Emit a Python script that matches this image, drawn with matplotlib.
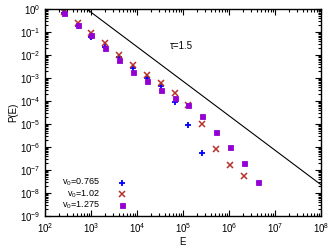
import matplotlib
matplotlib.use("Agg")
import matplotlib.pyplot as plt
import numpy as np
from matplotlib.ticker import FixedLocator, NullFormatter

plt.rcParams['font.family'] = ['Liberation Sans', 'DejaVu Sans']
plt.rcParams['mathtext.fontset'] = 'custom'
plt.rcParams['mathtext.rm'] = 'Liberation Sans'
plt.rcParams['mathtext.it'] = 'Liberation Sans:italic'
plt.rcParams['mathtext.default'] = 'regular'

# Data
E_all = [256, 512, 1024, 2048, 4096, 8192, 16384, 32768, 65536, 131072,
         262144, 524288, 1048576, 2097152, 4194304]
P_v0765 = [0.69, 0.19, 0.059, 0.023, 7.9e-3, 2.75e-3, 1.0e-3, 4.5e-4, 8.7e-5,
           9.1e-6, 5.6e-7]
P_v102 = [0.72, 0.24, 0.093, 0.034, 0.010, 3.8e-3, 1.35e-3, 5.9e-4, 2.3e-4,
          6.8e-5, 9.8e-6, 7.9e-7, 1.7e-7, 5.6e-8]
P_v1275 = [0.69, 0.21, 0.072, 0.021, 6.3e-3, 1.9e-3, 7.4e-4, 3.1e-4, 1.4e-4,
           6.5e-5, 2.3e-5, 4.4e-6, 1.0e-6, 2.1e-7, 3.0e-8]
labels = ['v$_0$=0.765', 'v$_0$=1.02', 'v$_0$=1.275']
tau = 1.5
prefactor = 10 ** 4.36
E_line = [1e2, 1e8]
x_exps = [2, 3, 4, 5, 6, 7, 8]
y_exps = [-9, -8, -7, -6, -5, -4, -3, -2, -1, 0]

colors = ['#0000ff', '#b8302a', '#9400d3']
markers = ['+', 'x', 's']
sizes = [5, 4, 3.6]
ews = [1.3, 1.1, 0.6]
mfcs = ['none', 'none', '#9400d3']

fig = plt.figure(figsize=(3.32, 2.5), dpi=100)
ax = fig.add_axes([45 / 332, 34 / 250, 276 / 332, 207 / 250])
ax.set_xscale('log')
ax.set_yscale('log')
ax.set_xlim(1e2, 1e8)
ax.set_ylim(1e-9, 1e0)

series = [P_v0765, P_v102, P_v1275]
for P, c, m, s, ew, fc in zip(series, colors, markers, sizes, ews, mfcs):
    ax.plot(E_all[:len(P)], P, linestyle='none', marker=m, ms=s, mew=ew,
            mec=c, mfc=fc, color=c)

El = np.array(E_line)
ax.plot(El, prefactor * El ** (-tau), color='black', lw=0.8)

ax.text(0.453, 0.82, 'τ=1.5', transform=ax.transAxes, fontsize=7,
        ha='left', va='center')

# legend
leg_y = [0.161, 0.105, 0.052]
for lab, c, m, s, ew, fc, yy in zip(labels, colors, markers, sizes, ews, mfcs, leg_y):
    ax.text(0.197, yy, lab, transform=ax.transAxes, fontsize=6.5,
            ha='right', va='center')
    ax.plot([0.279], [yy], transform=ax.transAxes, marker=m, ms=s, mew=ew,
            mec=c, mfc=fc, linestyle='none')

ax.set_xticks([10.0 ** e for e in x_exps])
ax.set_xticklabels(['$10^{%d}$' % e for e in x_exps])
ax.set_yticks([10.0 ** e for e in y_exps])
ax.set_yticklabels(['$10^{%d}$' % e for e in y_exps])
xminor = [s * 10.0 ** e for e in x_exps[:-1] for s in range(2, 10)]
yminor = [s * 10.0 ** e for e in y_exps[:-1] for s in range(2, 10)]
ax.xaxis.set_minor_locator(FixedLocator(xminor))
ax.yaxis.set_minor_locator(FixedLocator(yminor))
ax.xaxis.set_minor_formatter(NullFormatter())
ax.yaxis.set_minor_formatter(NullFormatter())
ax.tick_params(which='both', direction='in', top=True, right=True,
               labelsize=7, width=0.8)
ax.tick_params(which='major', length=4)
ax.tick_params(which='minor', length=2)
for sp in ax.spines.values():
    sp.set_linewidth(1.0)

ax.set_xlabel('E', fontsize=7, labelpad=2)
ax.set_ylabel('P(E)', fontsize=7, labelpad=1)

fig.savefig('out.png', dpi=100)
